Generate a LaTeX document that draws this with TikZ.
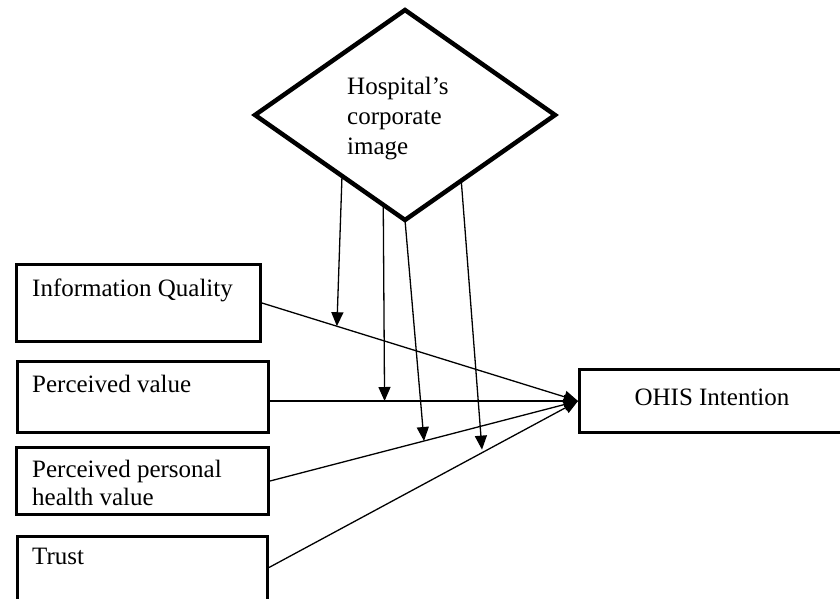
\documentclass[tikz,border=0pt]{standalone}
\usepackage{fontspec}
\setmainfont{Liberation Serif}
\usetikzlibrary{shapes.geometric,arrows.meta,calc}
\begin{document}
\begin{tikzpicture}[x=1pt,y=-1pt,
  lbl/.style={inner sep=0pt, anchor=base west, align=left,
    font=\fontsize{25}{29}\selectfont},
  varbox/.style={draw, line width=3pt, rectangle, inner sep=0pt, anchor=north west},
  link/.style={line width=1.3pt, -{Triangle[length=14pt,width=12pt]}},
]
\clip (0,0) rectangle (840,598);

% moderator (multi-line labels are placed by the baseline of their last line)
\node[diamond, draw, line width=4.5pt, minimum width=300pt, minimum height=210pt,
  inner sep=0pt, outer sep=0pt] (img) at (405,115) {};
\node[lbl, font=\fontsize{25}{30}\selectfont] (imgtxt) at (347,154)
  {Hospital's\\corporate\\image};

% predictors
\node[varbox, minimum width=244pt, minimum height=77pt] (iq) at (15,263) {};
\node[lbl] (iqtxt) at (32,296) {Information Quality};
\node[varbox, minimum width=251pt, minimum height=71pt] (pv) at (16,360) {};
\node[lbl] (pvtxt) at (32,392) {Perceived value};
\node[varbox, minimum width=252pt, minimum height=67pt] (phv) at (15,446) {};
\node[lbl, font=\fontsize{25}{28}\selectfont] (phvtxt) at (32,505)
  {Perceived personal\\health value};
\node[varbox, minimum width=250pt, minimum height=70pt] (tr) at (16,535) {};
\node[lbl] (trtxt) at (32,564) {Trust};

% outcome
\node[varbox, minimum width=265pt, minimum height=63pt, text depth=8pt,
  font=\fontsize{25}{29}\selectfont] (ohis) at (578,368) {OHIS Intention};

% direct effects
\draw[link] (iq.east) -- coordinate[pos=0.237] (m1) (ohis.west);
\draw[link] (pv.east |- ohis.west) -- coordinate[pos=0.372] (m2) (ohis.west);
\draw[link] (phv.east) -- coordinate[pos=0.50] (m3) (ohis.west);
\draw[link] ([yshift=4pt]tr.east) -- coordinate[pos=0.69] (m4) (ohis.west);

% moderating effects
\draw[link] ($(img.west)!0.58!(img.south)$) -- (m1);
\draw[link] ($(img.west)!0.855!(img.south)$) -- (m2);
\draw[link] (img.south) -- (m3);
\draw[link, shorten >=3pt] ($(img.south)!0.375!(img.east)$) -- (m4);
\end{tikzpicture}
\end{document}
